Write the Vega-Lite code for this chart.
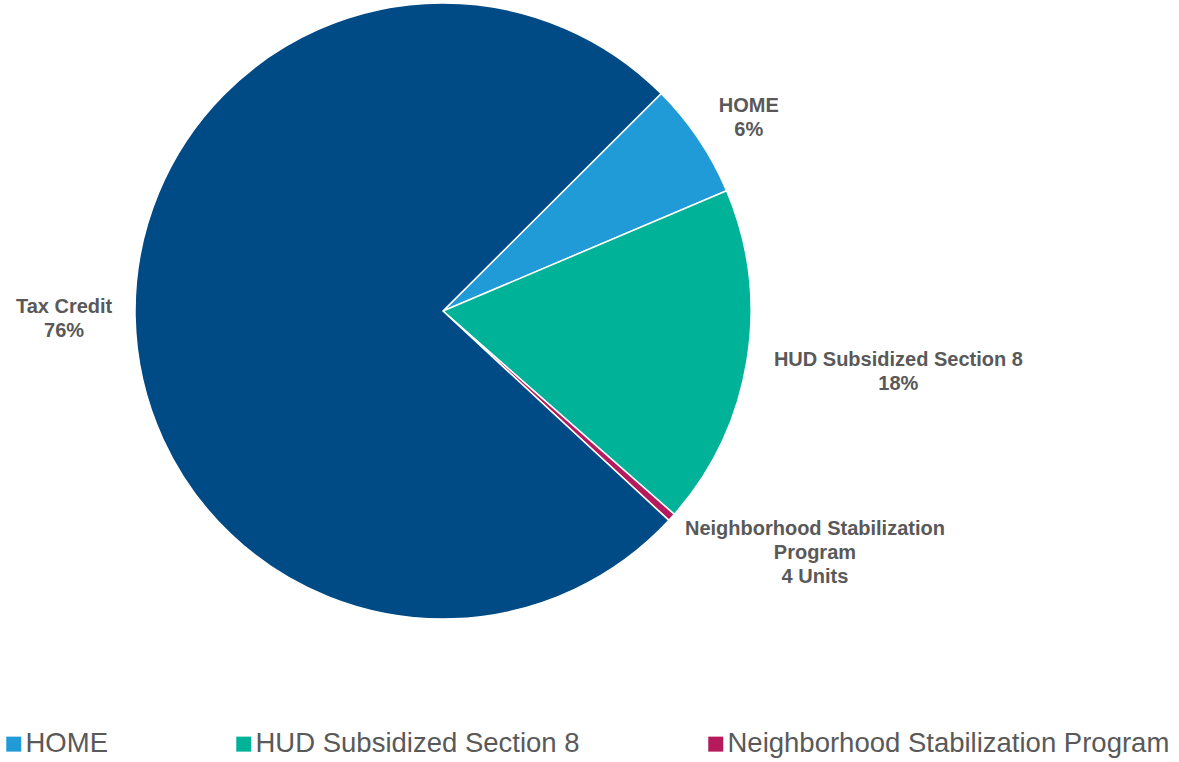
{
  "$schema": "https://vega.github.io/schema/vega-lite/v6.json",
  "width": 886,
  "height": 622,
  "padding": 0,
  "autosize": {"type": "pad"},
  "background": "white",
  "config": {"view": {"stroke": null}},
  "data": {"values": [
    {"category": "HOME", "value": 58, "order": 1, "label": "HOME\n6%"},
    {"category": "HUD Subsidized Section 8", "value": 170, "order": 2, "label": "HUD Subsidized Section 8\n18%"},
    {"category": "Neighborhood Stabilization Program", "value": 4, "order": 3, "label": "Neighborhood Stabilization\nProgram\n4 Units"},
    {"category": "Tax Credit", "value": 720, "order": 4, "label": "Tax Credit\n76%"}
  ]},
  "encoding": {
    "theta": {"field": "value", "type": "quantitative", "stack": true, "scale": {"range": [0.7871, 7.0703]}},
    "order": {"field": "order", "type": "quantitative"}
  },
  "layer": [
    {
      "mark": {"type": "arc", "outerRadius": 308, "stroke": "white", "strokeWidth": 1.5},
      "encoding": {
        "color": {
          "field": "category", "type": "nominal",
          "scale": {
            "domain": ["HOME", "HUD Subsidized Section 8", "Neighborhood Stabilization Program", "Tax Credit"],
            "range": ["#209BD7", "#00B398", "#B51B5C", "#004A86"]
          },
          "legend": {
            "values": ["HOME", "HUD Subsidized Section 8", "Neighborhood Stabilization Program"],
            "title": null,
            "orient": "none",
            "direction": "horizontal",
            "legendX": 0,
            "legendY": 730,
            "padding": 0,
            "symbolType": "square",
            "symbolSize": 225,
            "symbolStrokeWidth": 0,
            "symbolOpacity": 1,
            "labelFont": "Liberation Sans",
            "labelFontSize": 27.5,
            "labelColor": "#595959",
            "labelOffset": -2,
            "labelLimit": 600,
            "columnPadding": 122
          }
        }
      }
    },
    {
      "mark": {"type": "text", "radius": 365, "dx": 3, "dy": 5, "align": "center", "baseline": "alphabetic", "font": "Liberation Sans", "fontWeight": "bold", "fontSize": 20, "lineHeight": 23.5, "lineBreak": "\n", "color": "#595959"},
      "encoding": {"text": {"condition": {"test": "datum.category === 'HOME'", "field": "label"}, "value": ""}}
    },
    {
      "mark": {"type": "text", "radius": 440, "dx": 21, "dy": -15, "align": "center", "baseline": "alphabetic", "font": "Liberation Sans", "fontWeight": "bold", "fontSize": 20, "lineHeight": 23.5, "lineBreak": "\n", "color": "#595959"},
      "encoding": {"text": {"condition": {"test": "datum.category === 'HUD Subsidized Section 8'", "field": "label"}, "value": ""}}
    },
    {
      "mark": {"type": "text", "radius": 400, "dx": 75, "dy": -44, "align": "center", "baseline": "alphabetic", "font": "Liberation Sans", "fontWeight": "bold", "fontSize": 20, "lineHeight": 24, "lineBreak": "\n", "color": "#595959"},
      "encoding": {"text": {"condition": {"test": "datum.category === 'Neighborhood Stabilization Program'", "field": "label"}, "value": ""}}
    },
    {
      "mark": {"type": "text", "radius": 379, "dx": 0, "dy": -5, "align": "center", "baseline": "alphabetic", "font": "Liberation Sans", "fontWeight": "bold", "fontSize": 20, "lineHeight": 24.5, "lineBreak": "\n", "color": "#595959"},
      "encoding": {"text": {"condition": {"test": "datum.category === 'Tax Credit'", "field": "label"}, "value": ""}}
    }
  ]
}
